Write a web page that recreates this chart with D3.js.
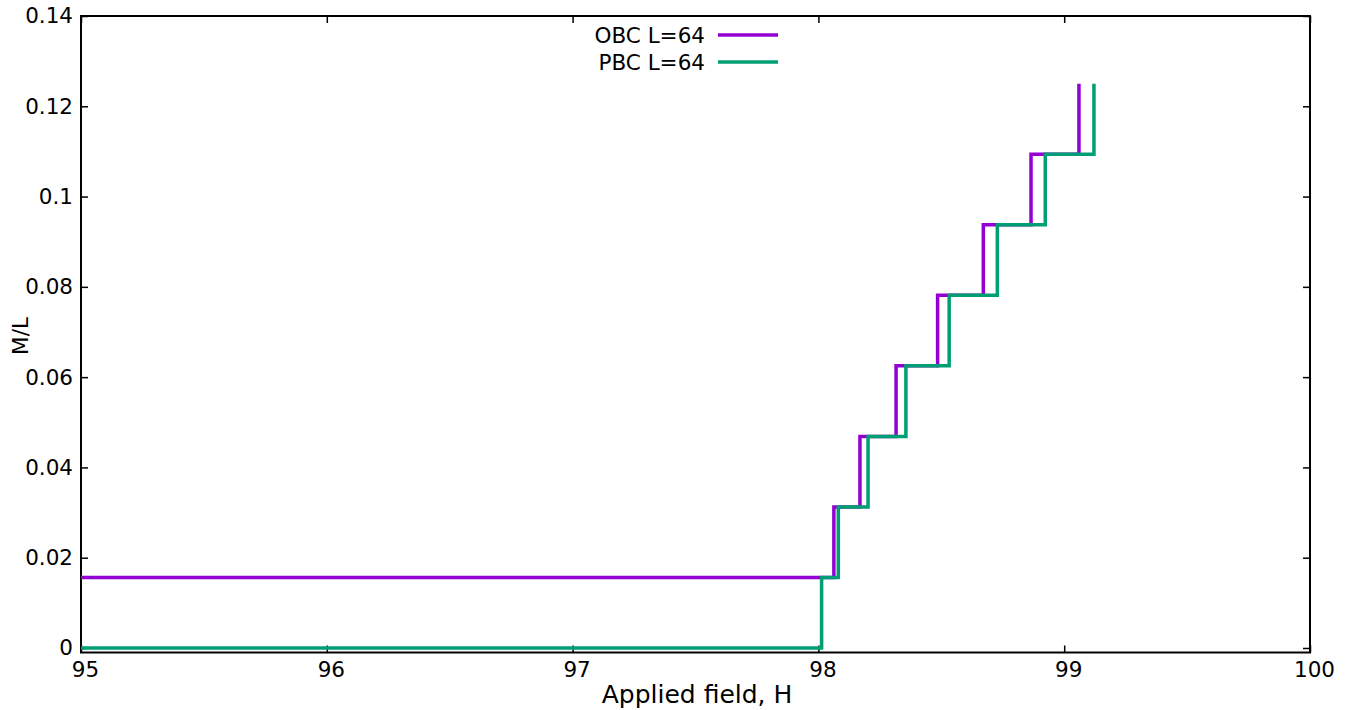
<!DOCTYPE html>
<html>
<head>
<meta charset="utf-8">
<script src="https://cdn.jsdelivr.net/npm/d3@7"></script>
<style>
  html, body { margin: 0; padding: 0; background: #fff; }
  svg { display: block; font-family: "DejaVu Sans", sans-serif; }
</style>
</head>
<body>
<svg id="chart" width="1349" height="710"></svg>
<script>
// Data: magnetization per site vs applied field (step functions)
const obcField = [95, 98.063, 98.169, 98.316, 98.485, 98.671, 98.865, 99.060];
const obcMag   = [0.015625, 0.03125, 0.046875, 0.0625, 0.078125, 0.09375, 0.109375, 0.125];
const pbcField = [95, 98.013, 98.081, 98.202, 98.356, 98.532, 98.728, 98.923, 99.121];
const pbcMag   = [0, 0.015625, 0.03125, 0.046875, 0.0625, 0.078125, 0.09375, 0.109375, 0.125];
const seriesNames = ["OBC L=64", "PBC L=64"];
const seriesColors = ["#9400d3", "#009e73"];
const xTicks = [95, 96, 97, 98, 99, 100];
const yTicks = [0, 0.02, 0.04, 0.06, 0.08, 0.1, 0.12, 0.14];

const svg = d3.select("#chart");
const mLeft = 81, mRight = 1310, mTop = 16, mBottom = 652.5;

const x = d3.scaleLinear().domain([95, 100]).range([mLeft, mRight]);
const y = d3.scaleLinear().domain([-0.001, 0.14]).range([mBottom, mTop]);

const tickLen = 7;
const fs = 21.5;
const axisG = svg.append("g");

const xb = axisG.append("g").attr("transform", `translate(0,${mBottom})`)
  .call(d3.axisBottom(x).tickValues(xTicks).tickFormat(d3.format("d")).tickSize(-tickLen).tickPadding(9));
const xt = axisG.append("g").attr("transform", `translate(0,${mTop})`)
  .call(d3.axisTop(x).tickValues(xTicks).tickFormat("").tickSize(-tickLen));
const yl = axisG.append("g").attr("transform", `translate(${mLeft},0)`)
  .call(d3.axisLeft(y).tickValues(yTicks).tickFormat(d => d === 0 ? "0" : String(+d.toFixed(2))).tickSize(-tickLen).tickPadding(8));
const yr = axisG.append("g").attr("transform", `translate(${mRight},0)`)
  .call(d3.axisRight(y).tickValues(yTicks).tickFormat("").tickSize(-tickLen));

axisG.selectAll(".domain").remove();
axisG.selectAll(".tick line").attr("stroke", "#000").attr("stroke-width", 1.5);
axisG.selectAll(".tick text").attr("font-size", fs).attr("fill", "#000")
  .attr("font-family", "'DejaVu Sans', sans-serif");
xb.selectAll(".tick text").attr("dx", 4);

svg.append("rect").attr("x", mLeft).attr("y", mTop)
  .attr("width", mRight - mLeft).attr("height", mBottom - mTop)
  .attr("fill", "none").attr("stroke", "#000").attr("stroke-width", 2);

const line = d3.line().x(d => x(d[0])).y(d => y(d[1])).curve(d3.curveStepAfter);
const series = [
  d3.zip(obcField, obcMag),
  d3.zip(pbcField, pbcMag)
];
series.forEach((s, i) => {
  svg.append("path").datum(s).attr("d", line)
    .attr("fill", "none").attr("stroke", seriesColors[i])
    .attr("stroke-width", 3.5).attr("stroke-linejoin", "miter").attr("stroke-linecap", "butt");
});

const legY = [35, 62];
seriesNames.forEach((name, i) => {
  svg.append("text").attr("x", 705).attr("y", legY[i]).attr("dy", "0.35em")
    .attr("text-anchor", "end").attr("font-size", fs).attr("fill", "#000").text(name);
  svg.append("line").attr("x1", 718).attr("x2", 778).attr("y1", legY[i]).attr("y2", legY[i])
    .attr("stroke", seriesColors[i]).attr("stroke-width", 3.5);
});

svg.append("text").attr("x", 697).attr("y", 703).attr("text-anchor", "middle")
  .attr("font-size", 25).attr("fill", "#000").text("Applied field, H");
svg.append("text").attr("transform", "translate(28,336) rotate(-90)")
  .attr("text-anchor", "middle").attr("font-size", fs).attr("fill", "#000").text("M/L");
</script>
</body>
</html>
